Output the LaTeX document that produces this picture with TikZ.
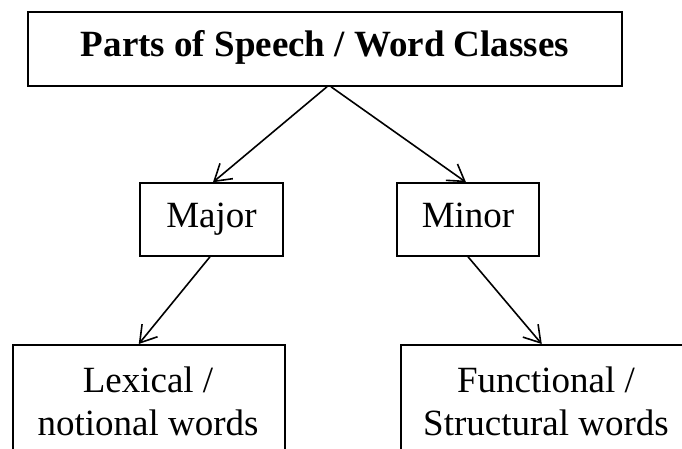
\documentclass[tikz,border=0pt]{standalone}
\usepackage{fontspec}
\setmainfont{Liberation Serif}
\usetikzlibrary{arrows.meta}
\begin{document}
\begin{tikzpicture}[x=1pt,y=-1pt,
  box/.style={draw, line width=1.5pt, inner sep=0pt},
  conn/.style={line width=1.6pt, -{Straight Barb[length=16pt,width=20pt,line width=1.6pt]}},
  lbl/.style={font=\fontsize{37}{43}\selectfont, align=center, inner sep=0pt}
]
\useasboundingbox (0,0) rectangle (682,448);
\clip (0,0) rectangle (682,448);

% top level
\node[box, minimum width=594pt, minimum height=74pt,
      font=\fontsize{37}{43}\selectfont\bfseries, text height=25pt, text depth=11pt]
  (top) at (325,49) {Parts of Speech / Word Classes};

% second level
\node[box, lbl, minimum width=143pt, minimum height=73pt, text height=25pt, text depth=10pt]
  (major) at (211.5,219.5) {Major};
\node[box, lbl, minimum width=142pt, minimum height=73pt, text height=25pt, text depth=10pt]
  (minor) at (468,219.5) {Minor};

% third level (boxes run past the lower edge)
\node[box, anchor=north west, minimum width=272pt, minimum height=150pt] (lexbox) at (12,344) {};
\node[box, anchor=north west, minimum width=292pt, minimum height=150pt] (funbox) at (400,344) {};
\node[lbl, anchor=base] (lextext) at (148,435) {Lexical /\\notional words};
\node[lbl, anchor=base] (funtext) at (546,435) {Functional /\\Structural words};

% connectors
\draw[conn] ([xshift=2pt]top.south) -- ([xshift=1.5pt]major.north);
\draw[conn] ([xshift=6pt]top.south) -- ([xshift=-2pt]minor.north);
\draw[conn] ([xshift=-1.5pt]major.south) -- ([xshift=-10pt]lexbox.north);
\draw[conn] (minor.south) -- ([xshift=-5pt]funbox.north);
\end{tikzpicture}
\end{document}
